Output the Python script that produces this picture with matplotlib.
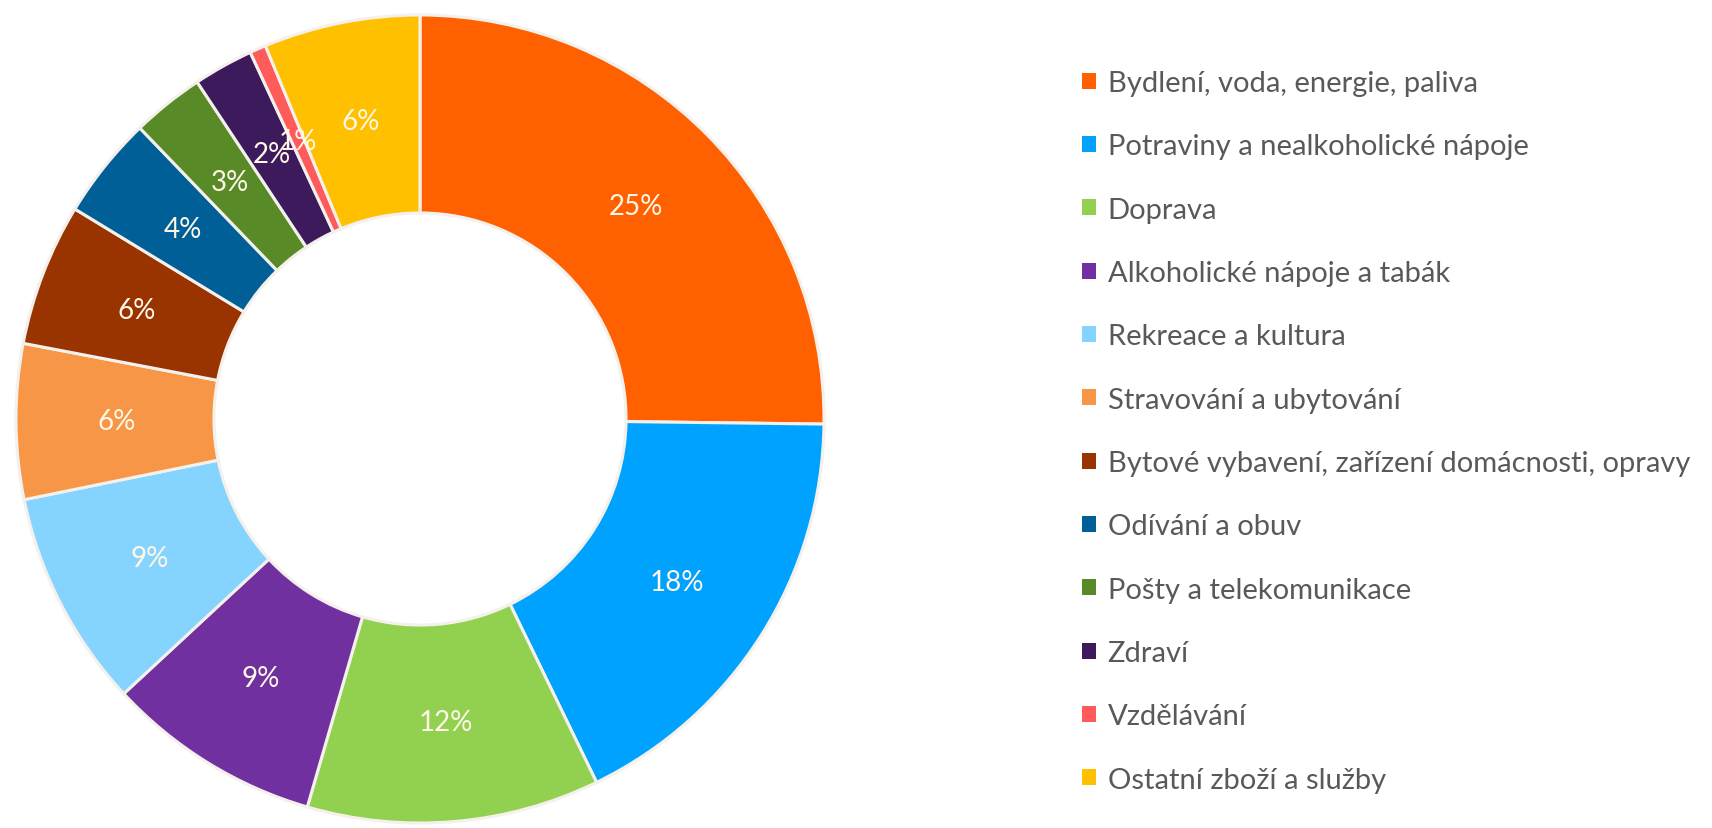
import matplotlib.pyplot as plt
from matplotlib.patches import Patch

categories = ["Bydlení, voda, energie, paliva", "Potraviny a nealkoholické nápoje", "Doprava",
              "Alkoholické nápoje a tabák", "Rekreace a kultura", "Stravování a ubytování",
              "Bytové vybavení, zařízení domácnosti, opravy", "Odívání a obuv",
              "Pošty a telekomunikace", "Zdraví", "Vzdělávání", "Ostatní zboží a služby"]
shares = [25.2, 17.6, 11.7, 8.6, 8.7, 6.2, 5.7, 4.1, 2.9, 2.4, 0.65, 6.25]
colors = ["#FF6000", "#00A2FF", "#92D050", "#7030A0", "#85D3FF", "#F79646",
          "#993300", "#005F96", "#588A27", "#3C1A5C", "#FF5B5B", "#FFC000"]

plt.rcParams['font.family'] = ['Lato', 'DejaVu Sans']

fig = plt.figure(figsize=(17.12, 8.29), dpi=100)
W, H = 1712, 829
# donut: centre (420, 420) px, radius 404 px
ax = fig.add_axes([16 / W, 5 / H, 808 / W, 808 / H])

wedges, texts, autotexts = ax.pie(
    shares, colors=colors, startangle=90, counterclock=False, radius=1,
    autopct=lambda p: f"{p:.0f}%", pctdistance=0.752,
    wedgeprops=dict(width=0.49, edgecolor="#F4F0EC", linewidth=2.2),
    textprops=dict(color="#FFF8E8", fontsize=20))
ax.set_xlim(-1, 1)
ax.set_ylim(-1, 1)

handles = [Patch(facecolor=c, edgecolor="none") for c in colors]
fig.legend(handles, categories, loc="upper left", bbox_to_anchor=(1082 / W, 1 - 71 / H),
           frameon=False, fontsize=21, labelcolor="#595959", handlelength=0.48, handleheight=0.48,
           handletextpad=0.4, labelspacing=1.28, borderaxespad=0, borderpad=0)

fig.savefig("out.png", dpi=100)
